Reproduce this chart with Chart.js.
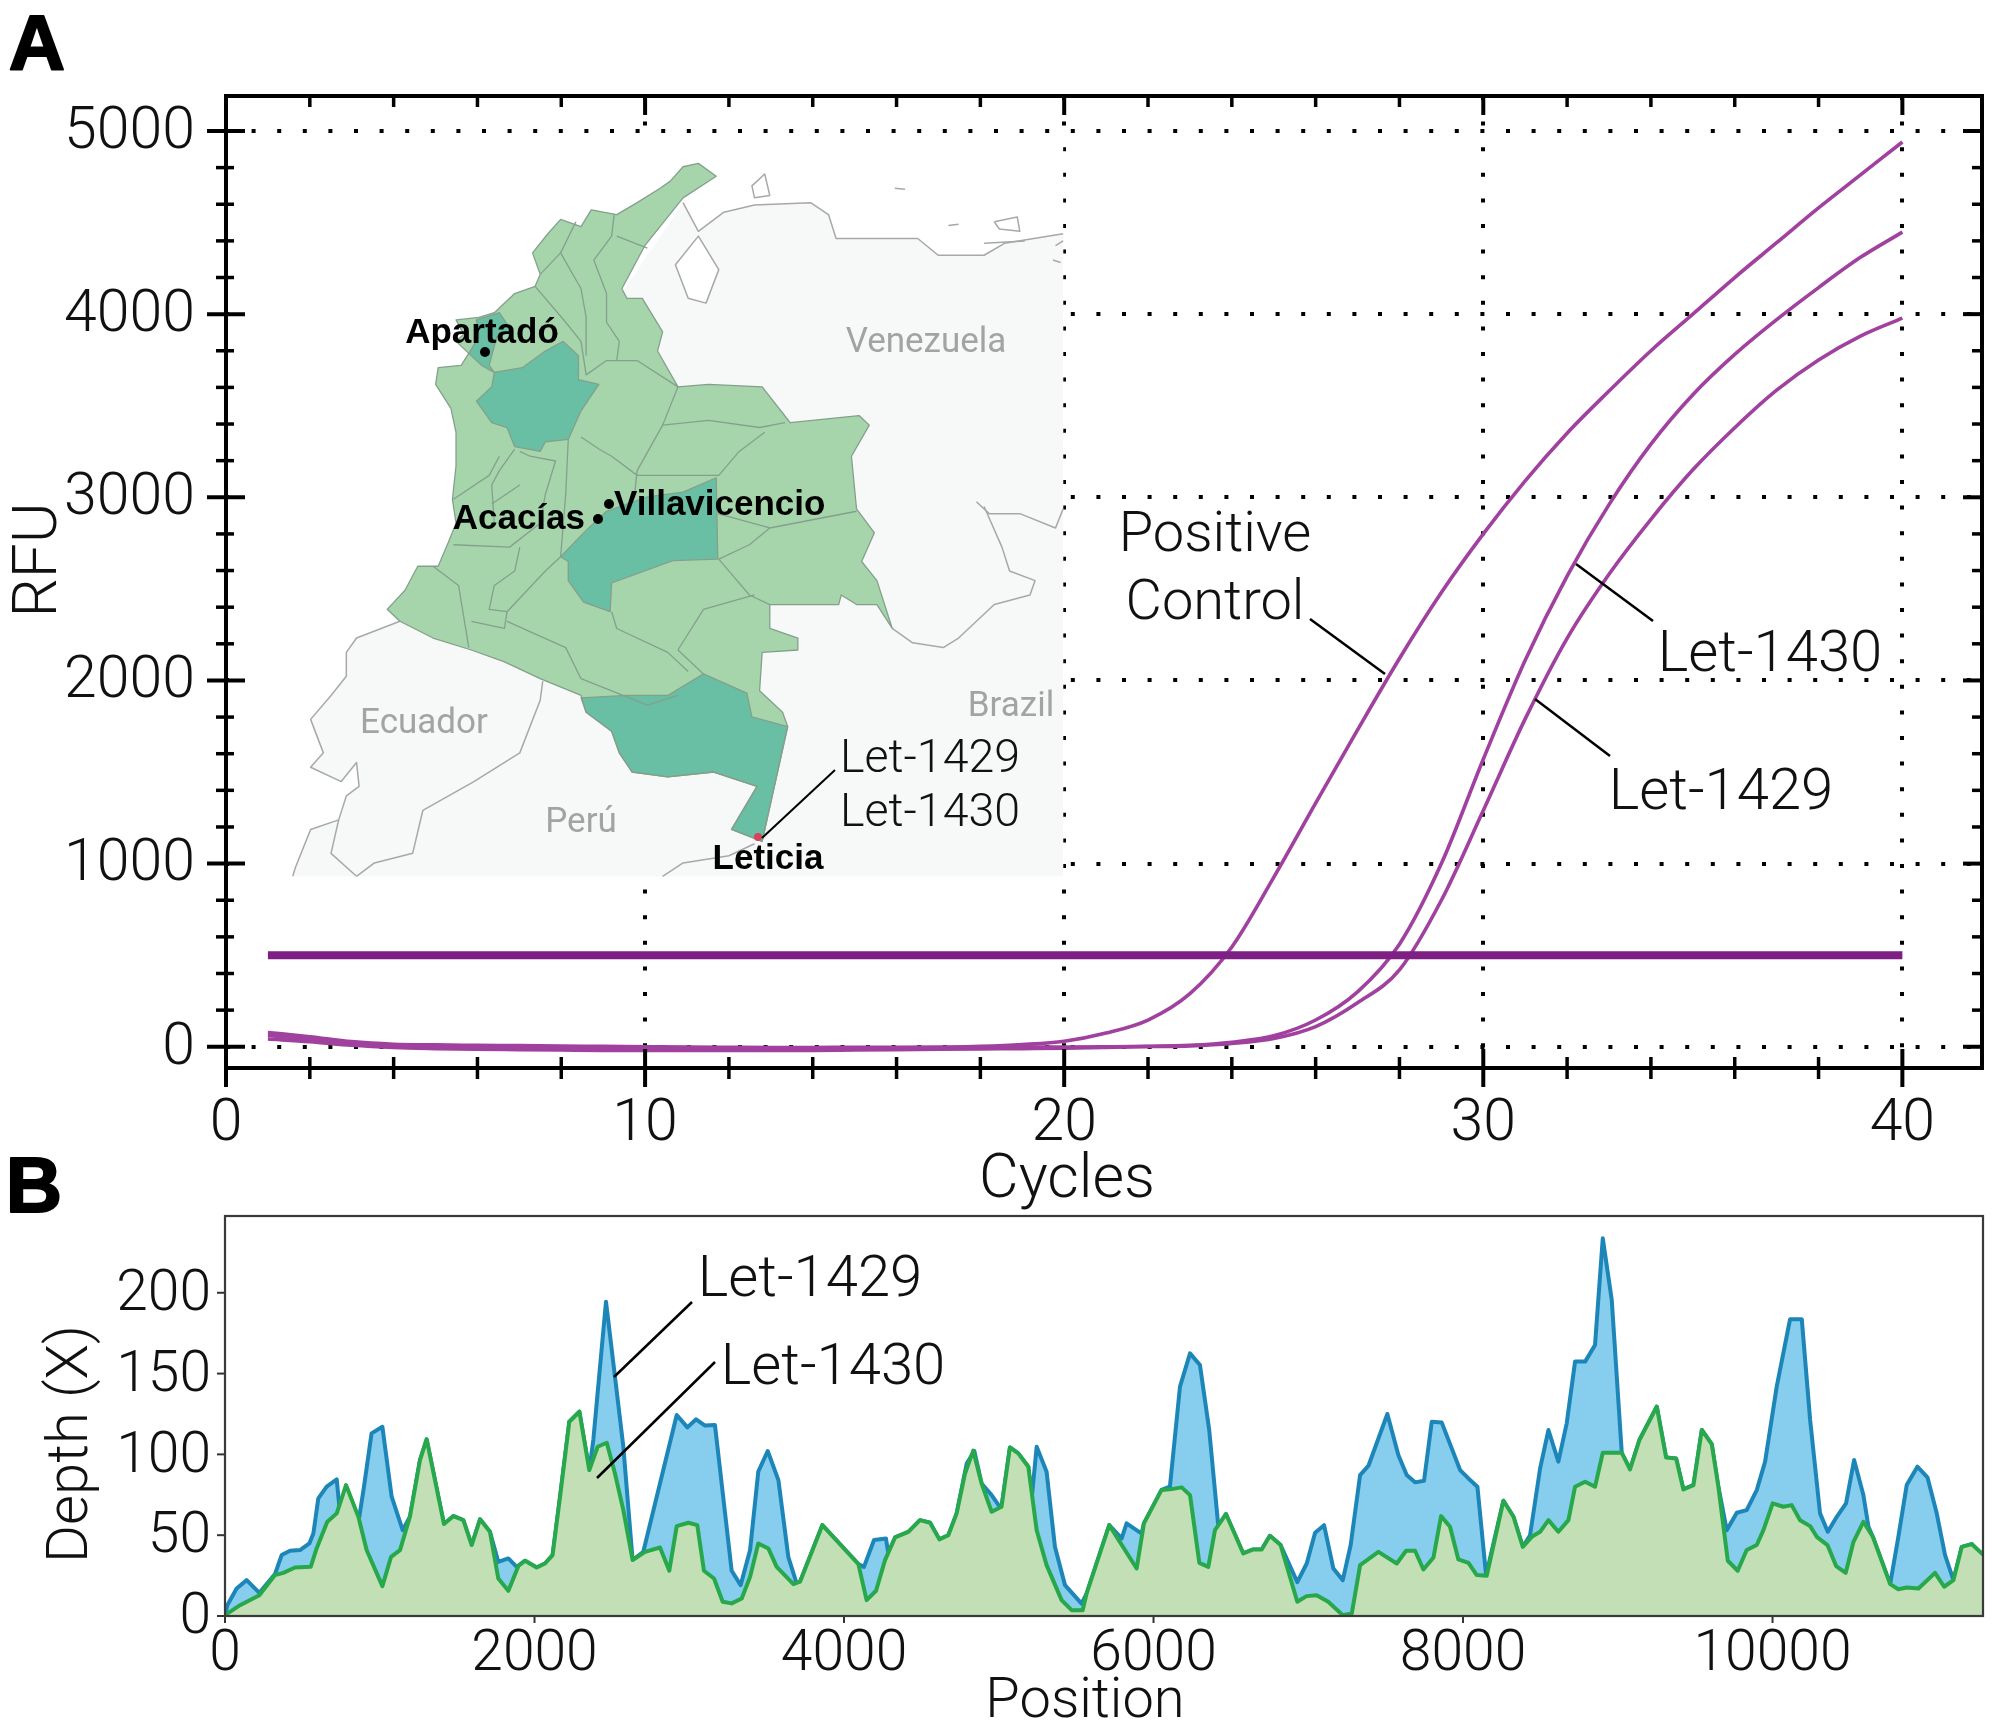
<!DOCTYPE html>
<html><head><meta charset="utf-8">
<style>html,body{margin:0;padding:0;background:#fff;width:1995px;height:1736px;overflow:hidden}canvas{position:absolute;left:0;display:block}</style>
<script src="https://cdn.jsdelivr.net/npm/chart.js@4"></script>
</head><body>
<canvas id="a" width="1995" height="1240" style="top:0"></canvas>
<canvas id="b" width="1995" height="536" style="top:1200px"></canvas>
<script>
const FONT='Roboto';
// ---------- Panel A values
const cycles=[1,2,3,4,5,6,7,8,9,10,11,12,13,14,15,16,17,18,19,20,21,22,23,24,25,26,27,28,29,30,31,32,33,34,35,36,37,38,39,40];
const positiveControl=[62,42,20,6,0,-4,-6,-8,-9,-10,-10,-10,-10,-9,-8,-6,-3,2,12,30,75,146,290,545,925,1330,1730,2120,2480,2800,3090,3350,3580,3800,4000,4200,4390,4580,4760,4940];
const let1430=[78,55,28,14,10,8,6,4,2,0,-2,-3,-4,-4,-3,-3,-3,-2,-2,-1,0,2,8,25,60,146,300,560,1000,1570,2110,2570,2960,3290,3560,3780,3970,4145,4310,4448];
const let1429=[42,28,8,-4,-10,-14,-16,-18,-20,-20,-20,-20,-20,-20,-18,-16,-14,-12,-10,-8,-4,1,5,18,45,110,240,420,800,1290,1790,2230,2580,2880,3150,3380,3585,3750,3880,3978];
const thresholdCycles=[1,40];
const thresholdRFU=[500,500];
const rfuTicksMajor=[0,1000,2000,3000,4000,5000];
const cycleTicksMajor=[0,10,20,30,40];
// ---------- Panel B values
const depth1429Pos=[0,15,75,140,222,323,366,420,485,545,571,603,657,722,739,775,868,898,947,1017,1077,1148,1195,1260,1303,1415,1476,1540,1594,1648,1712,1766,1831,1885,1939,2014,2068,2117,2165,2225,2290,2354,2380,2462,2520,2574,2634,2703,2919,2988,3044,3102,3166,3274,3332,3393,3446,3507,3576,3640,3694,3716,3860,4093,4129,4194,4271,4286,4330,4416,4491,4556,4616,4674,4728,4793,4842,4889,4954,5003,5018,5072,5126,5191,5212,5245,5309,5363,5428,5535,5568,5714,5794,5826,5923,5938,6052,6106,6171,6236,6300,6360,6419,6468,6580,6645,6699,6752,6821,6929,6990,7044,7102,7162,7223,7274,7335,7389,7511,7582,7636,7690,7748,7798,7862,7981,8035,8093,8149,8261,8326,8386,8433,8498,8552,8616,8670,8724,8789,8853,8903,8961,9026,9079,9140,9252,9312,9377,9424,9489,9543,9607,9650,9704,9769,9833,9898,9952,10027,10113,10189,10243,10307,10357,10415,10475,10527,10587,10620,10648,10760,10813,10867,10936,11001,11061,11115,11169,11223,11287,11360];
const depth1429=[0,6.7,17,22.2,14.3,25.9,37.7,40.4,40.8,44.9,51.1,72.8,80,84.5,67.6,65,61.4,80,113,117.1,73.8,53.1,61.4,96.5,109.3,56.9,61.8,59.3,43.9,59.8,52.1,33.5,35.6,30.4,34.2,30,32.5,37.7,73.8,120.2,126.4,90.3,108.9,194.5,148,104.7,34.6,39.7,124.4,116.7,121.7,117.8,118.2,28,19.1,40.8,89.3,102.1,84.1,36.6,20.1,21.2,56.2,32.1,30.4,47,48,39,48.6,52.1,59.3,57.7,47.4,50,63.5,94.4,102.1,82,74.8,68,67.6,104.3,100.6,92.4,72,104.7,89.3,42.8,19.1,7.7,14,56.2,48,57.3,51,57.3,78,80,141.9,162.5,155.3,115,55.2,63.1,38.7,41.2,41.2,49.6,43.9,21,32.5,51.5,56.2,29.4,22.2,43.9,87.2,93,125,99.6,87.2,82.7,83.7,120.2,119.8,90.3,85.1,80,25.3,71.3,61.4,42.8,50,91.3,115.1,95.5,119.2,157.4,157.4,167.7,233.7,195.6,100.6,90.7,108.9,129.5,98.1,97.5,78.3,81,115.1,106.4,80,53.1,63.9,65.5,77.9,95.5,141.9,183.6,183.6,121.3,63.5,52.1,61.4,69.7,96.5,74.8,55.2,49,19.7,49,81,92.4,85.8,63.5,37.7,22.2,42.8,44.5,37];
const depth1430Pos=[0,15,97,222,323,377,452,554,592,661,722,782,862,915,1017,1073,1131,1195,1260,1303,1415,1476,1540,1594,1648,1712,1766,1831,1896,1939,2014,2068,2117,2165,2225,2290,2354,2408,2467,2520,2574,2634,2714,2811,2871,2919,2994,3052,3095,3160,3216,3274,3339,3393,3446,3511,3565,3673,3716,3860,4093,4146,4207,4265,4330,4416,4491,4556,4616,4674,4728,4782,4835,4889,4954,5018,5072,5126,5191,5245,5309,5406,5471,5542,5568,5714,5891,5938,6052,6117,6182,6236,6296,6354,6397,6468,6580,6645,6699,6752,6821,6929,6989,7054,7129,7223,7281,7335,7453,7572,7632,7690,7744,7809,7858,7916,7970,8035,8089,8153,8261,8326,8386,8444,8498,8552,8616,8681,8724,8789,8853,8903,9026,9079,9140,9252,9312,9377,9424,9489,9543,9607,9650,9711,9775,9833,9898,9941,10001,10070,10124,10178,10243,10286,10355,10411,10473,10523,10587,10648,10760,10813,10867,10943,11050,11109,11169,11223,11287,11360];
const depth1430=[0,1.5,6.7,12.9,25.3,26.7,30,30.4,41.8,58.3,63.5,81,61.4,40.8,18.5,36.6,40.8,61.4,96.5,109.3,56.9,61.8,59.3,43.9,59.8,52.1,23.2,15.6,30.9,34.2,30,32.5,37.7,73.8,120.2,126.4,90.3,104.7,107.2,88.2,65.5,34.6,39.7,42.4,28,55.6,57.7,56.2,28,23.2,8.8,7.8,10.8,24.2,44.9,41.8,30.4,19.7,21.2,56.2,32.1,9.8,15.6,34.6,48.6,52.1,59.3,57.7,47.4,50,63.5,88.2,102.3,82,64.5,67.6,104.3,100.6,92.4,53.1,31.5,9.8,3.6,3.6,14,56.2,29.4,57.3,78,78.5,79.6,74.8,32.9,30.4,53.1,63.1,38.7,41.2,41.2,49.6,43.9,8.8,12.3,12.9,8.8,0.5,1.5,31.5,39.7,32.5,40.4,40.4,28.8,36.2,61.8,55.2,35,32.9,25.3,24.9,71.3,61.4,42.8,49,52.1,59.3,52.1,59.3,80,83.1,80,101,101,90.7,108.9,129.5,98.1,97.5,78.3,81,115.1,106.4,80,34.2,28,40.8,43.9,53.1,69.7,67.6,68.6,59.3,55.6,49,43.9,30.9,26.7,45.9,58.3,49,19.7,16.6,17.6,17,26.7,18.1,22.2,42.8,44.5,38];
const xy=(xs,ys)=>xs.map((x,i)=>({x,y:ys[i]}));

// ---------- Inset map geometry (decoration; map-local units)
const mapOrigin=[280,150], mapScale=[1/1.96,1/2.09];
const mapBox=[-1000,-20,1535,1518];
const landOutline=[[790,110],[820,170],[870,130],[930,115],[1040,110],[1075,135],[1090,185],[1250,185],[1290,220],[1380,220],[1420,195],[1535,175],[1535,1518],[25,1518],[30,1500],[60,1420],[115,1400],[130,1350],[155,1330],[150,1280],[120,1320],[60,1290],[85,1260],[60,1190],[100,1140],[130,1100],[130,1050],[150,1020],[235,985]];
const lake=[[820,180],[860,250],[835,320],[800,310],[775,240]];
const isle=[[925,75],[950,50],[960,95],[930,100]];
const colombia=[[855,55],[820,28],[790,35],[765,65],[745,80],[700,110],[660,135],[610,125],[590,160],[550,145],[525,175],[495,215],[510,260],[500,285],[460,300],[420,340],[390,350],[345,355],[360,385],[345,400],[370,425],[355,450],[310,455],[305,490],[335,540],[345,590],[345,660],[338,730],[345,780],[330,820],[310,870],[270,870],[245,920],[210,960],[235,985],[300,1020],[375,1045],[440,1070],[510,1105],[590,1140],[600,1175],[650,1215],[665,1260],[690,1300],[760,1310],[850,1300],[935,1330],[885,1420],[945,1445],[995,1205],[985,1175],[940,1130],[945,1050],[1015,1045],[1015,1020],[960,1000],[960,950],[1095,950],[1100,930],[1130,950],[1170,950],[1200,1000],[1170,900],[1140,860],[1165,800],[1130,750],[1120,640],[1155,575],[1135,555],[1000,570],[945,495],[840,490],[780,495],[740,420],[750,380],[710,310],[680,310],[670,290],[715,200],[790,100]];
const darkRegions=[
 [[420,465],[475,455],[520,420],[555,400],[585,430],[585,480],[625,490],[590,545],[565,605],[520,610],[510,630],[460,620],[445,580],[415,570],[385,525],[415,495]],
 [[385,355],[430,340],[455,380],[425,390],[410,450],[420,465],[395,450],[370,425],[390,390]],
 [[855,685],[858,855],[770,858],[650,905],[647,965],[595,945],[565,900],[565,860],[550,850],[600,795],[640,755],[720,725],[790,715]],
 [[590,1145],[680,1140],[760,1140],[830,1095],[915,1135],[925,1185],[995,1205],[945,1445],[885,1420],[935,1330],[850,1300],[760,1310],[690,1300],[665,1260],[650,1215],[600,1175]]];
const departmentBorders=[
 [[510,260],[550,215],[580,150]],[[550,215],[590,290],[600,350],[600,430]],[[655,135],[650,180],[615,230],[640,300],[640,360],[665,400],[660,440]],[[660,180],[720,205]],
 [[500,285],[560,360],[590,400],[600,470],[640,440],[700,440],[780,495]],[[780,495],[750,575],[700,670],[695,720]],[[750,575],[840,565],[940,580],[990,570]],
 [[950,590],[900,630],[860,680],[700,680]],[[858,760],[960,790],[1130,755]],[[860,855],[920,825],[960,790]],[[880,880],[920,930],[960,950]],[[860,855],[880,880]],
 [[650,965],[660,1000],[760,1050],[800,1090]],[[780,1045],[830,960],[930,930]],[[590,600],[625,625],[650,640],[700,680]],[[565,605],[560,720],[550,850]],
 [[460,625],[430,670],[415,700],[420,780]],[[470,630],[490,640],[540,650],[520,720],[510,780],[450,830],[340,825]],[[340,730],[410,680],[430,640]],[[415,740],[470,700]],
 [[300,870],[350,910],[370,1040]],[[470,830],[460,880],[420,910],[410,960],[445,965],[520,880],[550,850]],[[445,965],[440,1000],[375,985]],[[445,985],[560,1040],[590,1105],[720,1160],[780,1140]],[[780,1045],[830,1095]]];
const foreignBorders=[
 [[1365,735],[1390,760],[1450,760],[1520,790],[1535,750]],[[1380,745],[1415,830],[1430,880],[1480,900],[1470,930],[1400,950],[1330,1020],[1300,1040],[1240,1030],[1200,1000]],
 [[515,1110],[510,1150],[470,1260],[380,1320],[280,1380],[260,1470],[185,1490],[150,1518]],[[150,1518],[100,1470],[115,1400]],[[750,1518],[790,1490],[880,1475],[930,1450]],
 [[1330,155],[1310,158]],[[1400,150],[1445,140],[1450,170],[1410,165],[1400,150]],[[1380,195],[1460,190]],[[1520,200],[1535,190]],[[1515,230],[1530,235]],[[1205,80],[1225,82]]];

const tp=p=>[mapOrigin[0]+p[0]*mapScale[0],mapOrigin[1]+p[1]*mapScale[1]];
function poly(c,pts,close){c.beginPath();pts.forEach((p,i)=>{const q=tp(p);i?c.lineTo(q[0],q[1]):c.moveTo(q[0],q[1]);});if(close)c.closePath();}
function txt(c,s,x,y,font,color,align,rot,bold){c.save();c.font=font;c.fillStyle=color;c.textAlign=align||'center';c.textBaseline='middle';c.translate(x,y);if(rot)c.rotate(rot);c.fillText(s,0,0);if(bold){c.lineWidth=bold;c.strokeStyle=color;c.lineJoin='round';c.strokeText(s,0,0);}c.restore();}
function seg(c,x1,y1,x2,y2,w,col){c.beginPath();c.moveTo(x1,y1);c.lineTo(x2,y2);c.lineWidth=w;c.strokeStyle=col||'#000';c.stroke();}
const noPad=s=>{s.paddingTop=s.paddingBottom=s.paddingLeft=s.paddingRight=0;};

const light=s=>`300 ${s}px ${FONT}`;
const mapPlugin={id:'map',beforeDatasetsDraw(ch){
 const c=ch.ctx;c.save();c.lineJoin='round';
 const a=tp([mapBox[0],mapBox[1]]),b=tp([mapBox[2],mapBox[3]]);
 c.fillStyle='#fff';c.fillRect(ch.chartArea.left+3,a[1],b[0]-ch.chartArea.left-3,b[1]-a[1]);
 poly(c,landOutline,true);c.fillStyle='#f7f8f8';c.fill();
 c.save();c.clip();
 poly(c,lake,true);c.fillStyle='#fff';c.fill();poly(c,isle,true);c.fill();
 c.restore();
 c.lineWidth=1.5;c.strokeStyle='#a8a8a8';
 poly(c,landOutline.slice(0,12));c.stroke();poly(c,landOutline.slice(13));c.stroke();poly(c,lake,true);c.stroke();poly(c,isle,true);c.stroke();
 foreignBorders.forEach(l=>{poly(c,l);c.stroke();});
 poly(c,colombia,true);c.fillStyle='#a6d5ab';c.fill();
 c.fillStyle='#69bfa3';darkRegions.forEach(r=>{poly(c,r,true);c.fill();});
 c.lineWidth=1.3;c.strokeStyle='#84a08c';
 departmentBorders.forEach(l=>{poly(c,l);c.stroke();});
 darkRegions.forEach(r=>{poly(c,r,true);c.stroke();});
 poly(c,colombia,true);c.stroke();
 const g='#a3a3a3',gf=`400 35px ${FONT}`;
 txt(c,'Venezuela',926,343,gf,g);txt(c,'Ecuador',424,724,gf,g);txt(c,'Brazil',1011,707,gf,g);txt(c,'Perú',581,823,gf,g);
 const bf=`700 35px "Liberation Sans"`;
 [[485,352],[609,504],[598,519]].forEach(p=>{c.beginPath();c.arc(p[0],p[1],5,0,7);c.fillStyle='#000';c.fill();});
 c.beginPath();c.arc(758,837,4,0,7);c.fillStyle='#d8425a';c.fill();
 txt(c,'Apartadó',482,333,bf,'#000');txt(c,'Villavicencio',614,505,bf,'#000','left');txt(c,'Acacías',585,519,bf,'#000','right');txt(c,'Leticia',768,859,bf,'#000');
 c.restore();
}};
const axesA={id:'axesA',afterDatasetsDraw(ch){
 const c=ch.ctx,{left:l,right:r,top:t,bottom:b}=ch.chartArea,X=ch.scales.x,Y=ch.scales.y;c.save();c.lineCap='butt';
 X.ticks.forEach(k=>{const v=k.value;if(v%2)return;const p=X.getPixelForValue(v),M=v%10===0,n=M?19:11;
  seg(c,p,b-n,p,b+n,M?4:3.5);seg(c,p,t,p,t+n,M?4:3.5);});
 Y.ticks.forEach(k=>{const v=k.value;if(v%200)return;const p=Y.getPixelForValue(v),M=v%1000===0;
  seg(c,l-(M?19:10),p,l+(M?19:8),p,M?4:3.5);seg(c,r-(M?19:10),p,r,p,M?4:3.5);});
 c.lineWidth=4;c.strokeStyle='#000';c.strokeRect(l,t,r-l,b-t);
 const I='#111';
 txt(c,'RFU',40,560,light(62),I,'center',-Math.PI/2);
 txt(c,'Cycles',1067,1182,light(61),I);
 txt(c,'A',37,48,'700 78px "Liberation Sans"','#000','center',0,2);
 txt(c,'B',34,1190,'700 78px "Liberation Sans"','#000','center',0,2);
 txt(c,'Positive',1215,537,light(56),I);txt(c,'Control',1215,605,light(56),I);
 seg(c,1310,619,1385,674,2.5);
 txt(c,'Let-1430',1770,656,light(58),I);seg(c,1576,564,1653,621,2.5);
 txt(c,'Let-1429',1721,794,light(58),I);seg(c,1535,699,1610,756,2.5);
 txt(c,'Let-1429',840,760,light(46.5),I,'left');txt(c,'Let-1430',840,814,light(46.5),I,'left');seg(c,835,770,762,838,2);
 c.restore();
}};
const purple='#a0409f';
const curve=(label,ys)=>({label,data:xy(cycles,ys),borderColor:purple,borderWidth:3.6,pointRadius:0,cubicInterpolationMode:'monotone',fill:false});
new Chart(document.getElementById('a'),{type:'line',
 data:{datasets:[
  {label:'Threshold',data:xy(thresholdCycles,thresholdRFU),borderColor:'#7d1f83',borderWidth:8,pointRadius:0,borderCapStyle:'butt'},
  curve('Positive Control',positiveControl),curve('Let-1430',let1430),curve('Let-1429',let1429)]},
 options:{responsive:false,animation:false,events:[],layout:{padding:{top:96,right:13,left:0,bottom:0}},
  plugins:{legend:{display:false},tooltip:{enabled:false},title:{display:false}},
  scales:{
   x:{type:'linear',min:0,max:41.9,afterFit(s){s.height=172;noPad(s);},
    grid:{color:c=>(c.tick&&cycleTicksMajor.includes(c.tick.value))?'#000':'transparent',lineWidth:4,drawTicks:false},
    border:{display:false,dash:[4,21.6]},
    ticks:{stepSize:2,autoSkip:false,maxRotation:0,includeBounds:false,padding:22,color:'#111',font:{family:FONT,size:59,weight:'300'},callback:v=>cycleTicksMajor.includes(v)?String(v):''}},
   y:{type:'linear',min:-116,max:5191,afterFit(s){s.width=226;noPad(s);},
    grid:{color:c=>(c.tick&&rfuTicksMajor.includes(c.tick.value))?'#000':'transparent',lineWidth:4,drawTicks:false},
    border:{display:false,dash:[4,21.6]},
    ticks:{stepSize:200,autoSkip:false,includeBounds:false,padding:31,labelOffset:2,color:'#111',font:{family:FONT,size:59,weight:'300'},callback:v=>rfuTicksMajor.includes(v)?String(v):''}}}},
 plugins:[mapPlugin,axesA]});

const depthTicks=[0,50,100,150,200];
const posTicks=[0,2000,4000,6000,8000,10000];
const axesB={id:'axesB',afterDatasetsDraw(ch){
 const c=ch.ctx,{left:l,right:r,top:t,bottom:b}=ch.chartArea,X=ch.scales.x,Y=ch.scales.y;c.save();
 posTicks.forEach(v=>{const p=X.getPixelForValue(v);seg(c,p,b,p,b+7,2,'#333');});
 depthTicks.forEach(v=>{const p=Y.getPixelForValue(v);seg(c,l-8,p,l,p,2,'#333');});
 c.lineWidth=2.2;c.strokeStyle='#3a3a3a';c.strokeRect(l,t,r-l,b-t);
 const I='#111';
 txt(c,'Depth (X)',72,244,light(58),I,'center',-Math.PI/2);
 txt(c,'Position',1085,503,light(56),I);
 txt(c,'Let-1429',810,81,light(58),I);txt(c,'Let-1430',833,169,light(58),I);
 seg(c,614,177,692,102,2.5);seg(c,597,278,715,162,2.5);
 c.restore();
}};
new Chart(document.getElementById('b'),{type:'line',
 data:{datasets:[
  {label:'Let-1429',order:2,data:xy(depth1429Pos,depth1429),borderColor:'#1d86b8',backgroundColor:'#87cdee',borderWidth:4,pointRadius:0,fill:'origin',tension:0,borderJoinStyle:'round'},
  {label:'Let-1430',order:1,data:xy(depth1430Pos,depth1430),borderColor:'#27a84a',backgroundColor:'#c2dfb6',borderWidth:4,pointRadius:0,fill:'origin',tension:0,borderJoinStyle:'round'}]},
 options:{responsive:false,animation:false,events:[],layout:{padding:{top:16,right:12,left:0,bottom:0}},
  plugins:{legend:{display:false},tooltip:{enabled:false}},
  scales:{
   x:{type:'linear',min:0,max:11360,afterFit(s){s.height=120;noPad(s);},afterBuildTicks(s){s.ticks=posTicks.map(value=>({value}));},grid:{display:false,drawTicks:false},border:{display:false},
    ticks:{autoSkip:false,maxRotation:0,padding:6,color:'#111',font:{family:FONT,size:57,weight:'300'},callback:v=>String(v)}},
   y:{type:'linear',min:0,max:247.5,afterFit(s){s.width=225;noPad(s);},afterBuildTicks(s){s.ticks=depthTicks.map(value=>({value}));},grid:{display:false,drawTicks:false},border:{display:false},
    ticks:{autoSkip:false,padding:14,labelOffset:3,color:'#111',font:{family:FONT,size:57,weight:'300'},callback:v=>String(v)}}}},
 plugins:[axesB]});
</script>
</body></html>
